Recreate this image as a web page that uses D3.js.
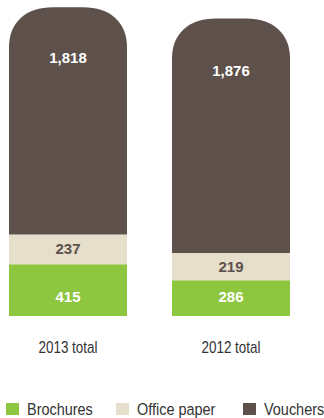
<!DOCTYPE html>
<html>
<head>
<meta charset="utf-8">
<script src="https://cdn.jsdelivr.net/npm/d3@7"></script>
<style>
  body { margin: 0; background: #fff; }
  .valueLabel { font-family: "Liberation Sans", Arial, sans-serif; font-weight: bold; font-size: 15px; }
  .catLabel, .legendLabel { font-family: "Liberation Sans Narrow", "Liberation Sans", sans-serif; fill: #333; }
</style>
</head>
<body>
<svg id="chart"></svg>
<script>
var width = 324;
var height = 418;

var categories = ["2013 total", "2012 total"];
var seriesNames = ["Brochures", "Office paper", "Vouchers"];
var brochures = [415, 286];
var officePaper = [237, 219];
var vouchers = [1818, 1876];

var colors = ["#8dc63f", "#e5dfcc", "#5e504b"];
var labelColors = ["#ffffff", "#5e504b", "#ffffff"];

var svg = d3.select("#chart")
    .attr("width", width)
    .attr("height", height);

var rows = categories.map(function(c, i) {
    return { cat: c, Brochures: brochures[i], "Office paper": officePaper[i], Vouchers: vouchers[i] };
});

var stack = d3.stack().keys(seriesNames)(rows);

var xScale = d3.scaleBand()
    .domain(categories)
    .range([9, 290])
    .paddingInner(0.276)
    .paddingOuter(0);

var yScale = d3.scaleLinear()
    .domain([0, 2500])
    .range([316, 3.5]);

var rx = 44, ry = 40;

// top segment gets soft rounded corners
function roundedTop(x, y, w, h) {
    var k = 0.62;
    return "M" + x + "," + (y + h) +
        "V" + (y + ry) +
        "C" + x + "," + (y + ry * (1 - k)) + " " + (x + rx * (1 - k)) + "," + y + " " + (x + rx) + "," + y +
        "H" + (x + w - rx) +
        "C" + (x + w - rx * (1 - k)) + "," + y + " " + (x + w) + "," + (y + ry * (1 - k)) + " " + (x + w) + "," + (y + ry) +
        "V" + (y + h) + "Z";
}

var layers = svg.append("g").selectAll("g")
    .data(stack)
    .enter().append("g")
    .attr("fill", function(d, i) { return colors[i]; });

layers.selectAll("path")
    .data(function(d) { return d; })
    .enter().append("path")
    .attr("d", function(d) {
        var x = xScale(d.data.cat);
        var w = xScale.bandwidth();
        var y0 = yScale(d[0]);
        var y1 = yScale(d[1]);
        if (this.parentNode.__data__.key === "Vouchers") {
            return roundedTop(x, y1, w, y0 - y1);
        }
        return "M" + x + "," + y1 + "H" + (x + w) + "V" + y0 + "H" + x + "Z";
    });

// value labels
stack.forEach(function(layer, i) {
    svg.append("g").selectAll("text")
        .data(layer)
        .enter().append("text")
        .attr("class", "valueLabel")
        .attr("fill", labelColors[i])
        .attr("text-anchor", "middle")
        .attr("x", function(d) { return xScale(d.data.cat) + xScale.bandwidth() / 2; })
        .attr("y", function(d) {
            var y0 = yScale(d[0]), y1 = yScale(d[1]);
            if (i === 0) return yScale(0) - 14;
            if (i === 2) return y1 + 0.225 * (y0 - y1) + 5;
            return (y0 + y1) / 2 + 5;
        })
        .text(function(d) { return d3.format(",")(d[1] - d[0]); });
});

// category labels
svg.append("g").selectAll("text")
    .data(categories)
    .enter().append("text")
    .attr("class", "catLabel")
    .attr("font-size", 16)
    .attr("text-anchor", "middle")
    .attr("transform", function(d) {
        return "translate(" + (xScale(d) + xScale.bandwidth() / 2) + ",353) scale(0.84,1)";
    })
    .text(function(d) { return d; });

// legend
var legendX = [6, 116, 243];
var legend = svg.append("g").selectAll("g")
    .data(seriesNames)
    .enter().append("g")
    .attr("transform", function(d, i) { return "translate(" + legendX[i] + ",402)"; });

legend.append("rect")
    .attr("y", 1)
    .attr("width", 13)
    .attr("height", 12)
    .attr("fill", function(d, i) { return colors[i]; });

legend.append("text")
    .attr("class", "legendLabel")
    .attr("font-size", 17)
    .attr("transform", "translate(21,12.5) scale(0.85,1)")
    .text(function(d) { return d; });
</script>
</body>
</html>
